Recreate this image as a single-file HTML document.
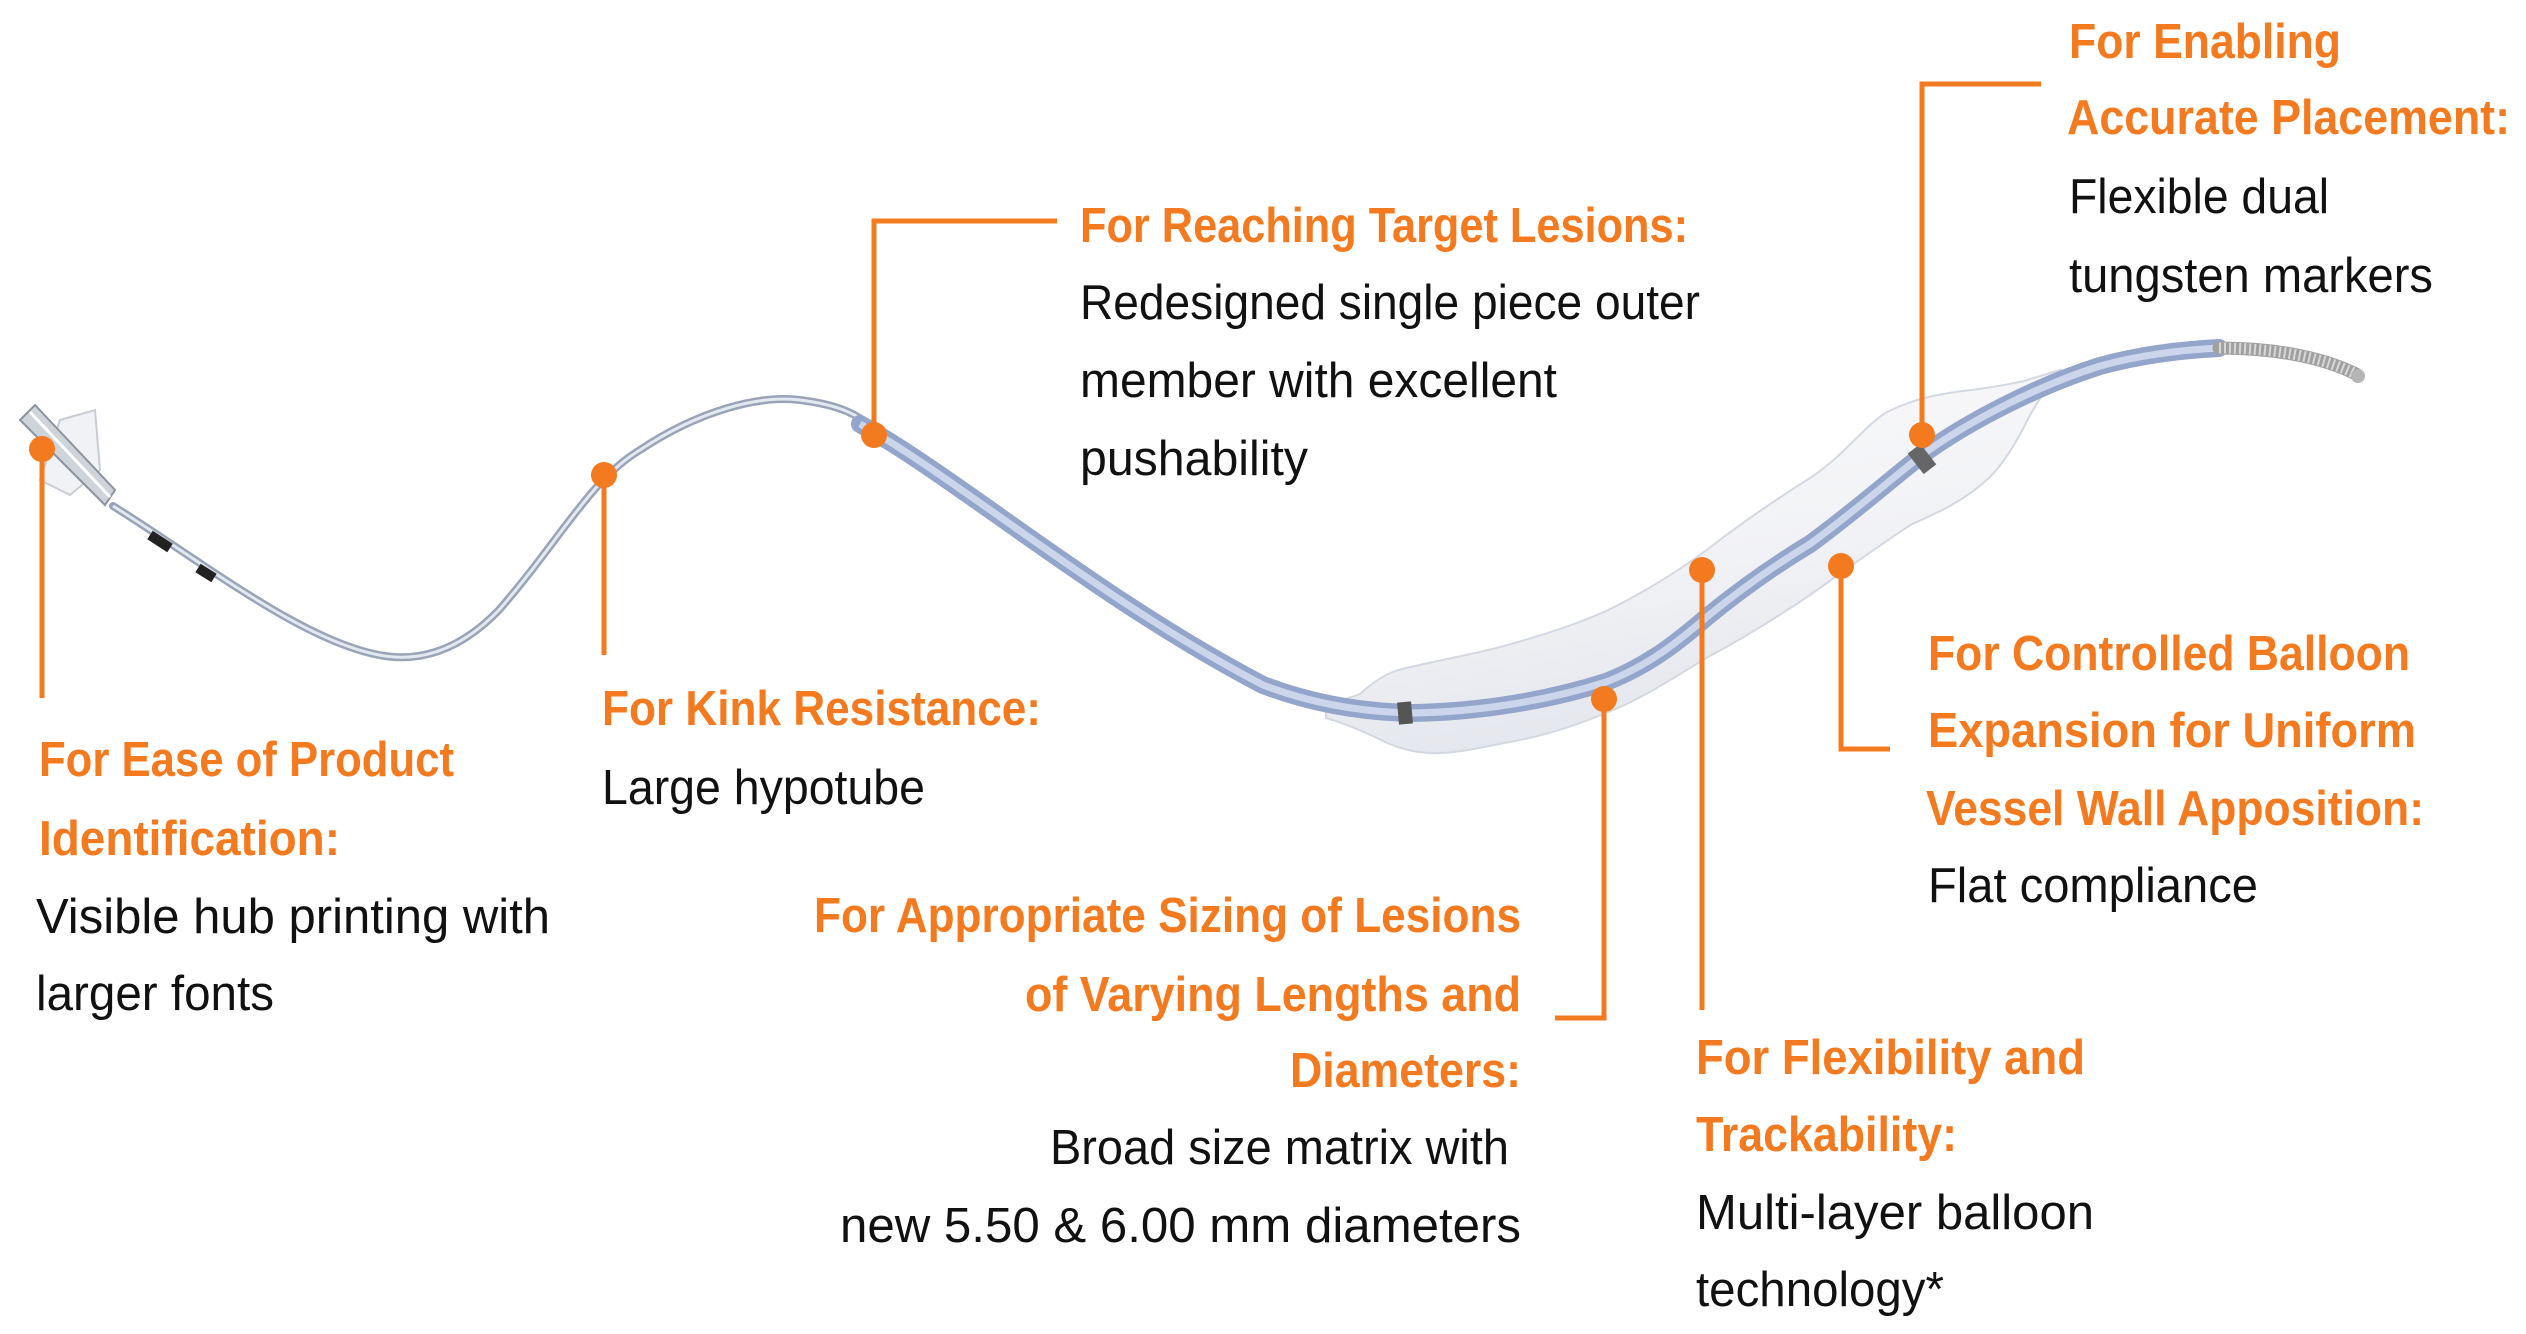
<!DOCTYPE html>
<html><head><meta charset="utf-8"><style>
html,body{margin:0;padding:0;background:#fff;}
svg{display:block;}
.t{font-family:"Liberation Sans",sans-serif;font-weight:bold;font-size:49px;fill:#f47a20;}
.b{font-family:"Liberation Sans",sans-serif;font-size:49px;fill:#111;}
</style></head><body>
<svg width="2526" height="1334" viewBox="0 0 2526 1334" xmlns="http://www.w3.org/2000/svg">
<defs>
<linearGradient id="bal" x1="0" y1="0" x2="0.3" y2="1">
<stop offset="0" stop-color="#fbfbfd"/><stop offset="0.6" stop-color="#f1f2f5"/><stop offset="1" stop-color="#e3e6ed"/>
</linearGradient>
</defs>
<!-- balloon -->
<path d="M1326,706 C1340,700 1350,698 1360,694 C1375,680 1390,672 1402,669 C1440,660 1470,655 1504,646 C1540,636 1575,625 1606,611 C1645,592 1680,570 1708,549 C1745,520 1780,497 1810,478 C1845,455 1865,425 1887,412 C1915,398 1940,394 1963,391 C1990,388 2010,384 2024,381 L2060,370 C2045,390 2032,410 2024,427 C2012,450 2000,467 1989,478 C1965,500 1940,512 1912,524 C1875,548 1840,574 1810,595 C1770,622 1740,640 1708,657 C1670,680 1640,700 1606,713 C1570,728 1535,738 1504,743 C1470,750 1450,754 1428,753 C1405,751 1390,745 1377,738 C1360,730 1340,722 1326,718 Z" fill="url(#bal)" stroke="#d4d8e0" stroke-width="2"/>
<!-- shaft thin part -->
<path d="M113,506 C200,560 300,640 379,655 C430,665 470,640 499,610 C560,540 590,480 640,450 C700,410 760,395 800,400 C840,405 860,415 874,430" fill="none" stroke="#9aa4b8" stroke-width="8" stroke-linecap="round"/>
<path d="M113,506 C200,560 300,640 379,655 C430,665 470,640 499,610 C560,540 590,480 640,450 C700,410 760,395 800,400 C840,405 860,415 874,430" fill="none" stroke="#e4e8f0" stroke-width="3"/>
<!-- shaft thick part -->
<path d="M860,424 C960,480 1100,600 1263,685 C1310,703 1360,712 1412,713 C1480,712 1550,700 1606,682 C1650,665 1680,640 1708,616 C1740,590 1775,565 1810,544 C1850,515 1890,480 1922,455 C1970,420 2040,385 2100,366 C2140,355 2180,350 2219,348" fill="none" stroke="#93a5ca" stroke-width="18" stroke-linecap="round"/>
<path d="M860,424 C960,480 1100,600 1263,685 C1310,703 1360,712 1412,713 C1480,712 1550,700 1606,682 C1650,665 1680,640 1708,616 C1740,590 1775,565 1810,544 C1850,515 1890,480 1922,455 C1970,420 2040,385 2100,366 C2140,355 2180,350 2219,348" fill="none" stroke="#cbd6ec" stroke-width="7"/>
<!-- markers -->
<rect x="1398" y="702" width="14" height="22" fill="#555" transform="rotate(-5 1405 713)"/>
<rect x="1914" y="446" width="16" height="26" fill="#666" transform="rotate(-38 1922 459)"/>
<!-- coil tip -->
<path d="M2219,348 C2270,348 2320,356 2356,374" fill="none" stroke="#a0a0a0" stroke-width="13" stroke-linecap="round"/>
<path d="M2219,348 C2270,348 2320,356 2356,374" fill="none" stroke="#d8d8d8" stroke-width="11" stroke-dasharray="2 3"/>
<circle cx="2358" cy="376" r="7" fill="#b5b5b5"/>
<!-- black bands -->
<path d="M150,535 L170,548 M198,568 L214,578" stroke="#222" stroke-width="10"/>
<!-- hub -->
<path d="M60,420 L95,410 L100,470 L70,495 L40,480 Z" fill="#f1f2f5" stroke="#c8ccd3" stroke-width="2"/>
<path d="M20,420 L35,405 L115,490 L105,505 Z" fill="#cfd3da" stroke="#8d939c" stroke-width="2"/>
<path d="M30,412 L110,497" stroke="#fff" stroke-width="3"/>
<!-- connectors -->
<g stroke="#f47a20" stroke-width="5" fill="none">
<path d="M42,449 V698"/>
<path d="M604,475 V655"/>
<path d="M874,435 V221 H1057"/>
<path d="M1604,699 V1018 H1555"/>
<path d="M1702,570 V1010"/>
<path d="M1841,566 V749 H1890"/>
<path d="M1922,435 V84 H2041"/>
</g>
<g fill="#f47a20">
<circle cx="42" cy="449" r="13"/><circle cx="604" cy="475" r="13"/><circle cx="874" cy="435" r="13"/>
<circle cx="1604" cy="699" r="13"/><circle cx="1702" cy="570" r="13"/><circle cx="1841" cy="566" r="13"/><circle cx="1922" cy="435" r="13"/>
</g>
<!-- texts -->
<text class="t" x="39" y="776" textLength="415" lengthAdjust="spacingAndGlyphs">For Ease of Product</text>
<text class="t" x="39" y="855" textLength="301" lengthAdjust="spacingAndGlyphs">Identification:</text>
<text class="b" x="36" y="933" textLength="514" lengthAdjust="spacingAndGlyphs">Visible hub printing with</text>
<text class="b" x="36" y="1010" textLength="238" lengthAdjust="spacingAndGlyphs">larger fonts</text>

<text class="t" x="602" y="725" textLength="439" lengthAdjust="spacingAndGlyphs">For Kink Resistance:</text>
<text class="b" x="602" y="804" textLength="323" lengthAdjust="spacingAndGlyphs">Large hypotube</text>

<text class="t" x="1080" y="242" textLength="608" lengthAdjust="spacingAndGlyphs">For Reaching Target Lesions:</text>
<text class="b" x="1080" y="319" textLength="620" lengthAdjust="spacingAndGlyphs">Redesigned single piece outer</text>
<text class="b" x="1080" y="397" textLength="477" lengthAdjust="spacingAndGlyphs">member with excellent</text>
<text class="b" x="1080" y="475" textLength="228" lengthAdjust="spacingAndGlyphs">pushability</text>

<text class="t" x="814" y="932" textLength="707" lengthAdjust="spacingAndGlyphs">For Appropriate Sizing of Lesions</text>
<text class="t" x="1025" y="1011" textLength="496" lengthAdjust="spacingAndGlyphs">of Varying Lengths and</text>
<text class="t" x="1290" y="1087" textLength="231" lengthAdjust="spacingAndGlyphs">Diameters:</text>
<text class="b" x="1050" y="1164" textLength="459" lengthAdjust="spacingAndGlyphs">Broad size matrix with</text>
<text class="b" x="840" y="1242" textLength="681" lengthAdjust="spacingAndGlyphs">new 5.50 &amp; 6.00 mm diameters</text>

<text class="t" x="1696" y="1074" textLength="389" lengthAdjust="spacingAndGlyphs">For Flexibility and</text>
<text class="t" x="1696" y="1151" textLength="261" lengthAdjust="spacingAndGlyphs">Trackability:</text>
<text class="b" x="1696" y="1229" textLength="398" lengthAdjust="spacingAndGlyphs">Multi-layer balloon</text>
<text class="b" x="1696" y="1306" textLength="248" lengthAdjust="spacingAndGlyphs">technology*</text>

<text class="t" x="1928" y="670" textLength="482" lengthAdjust="spacingAndGlyphs">For Controlled Balloon</text>
<text class="t" x="1928" y="747" textLength="488" lengthAdjust="spacingAndGlyphs">Expansion for Uniform</text>
<text class="t" x="1926" y="825" textLength="498" lengthAdjust="spacingAndGlyphs">Vessel Wall Apposition:</text>
<text class="b" x="1928" y="902" textLength="330" lengthAdjust="spacingAndGlyphs">Flat compliance</text>

<text class="t" x="2069" y="58" textLength="272" lengthAdjust="spacingAndGlyphs">For Enabling</text>
<text class="t" x="2067" y="134" textLength="443" lengthAdjust="spacingAndGlyphs">Accurate Placement:</text>
<text class="b" x="2069" y="213" textLength="260" lengthAdjust="spacingAndGlyphs">Flexible dual</text>
<text class="b" x="2069" y="292" textLength="364" lengthAdjust="spacingAndGlyphs">tungsten markers</text>
</svg>
</body></html>
